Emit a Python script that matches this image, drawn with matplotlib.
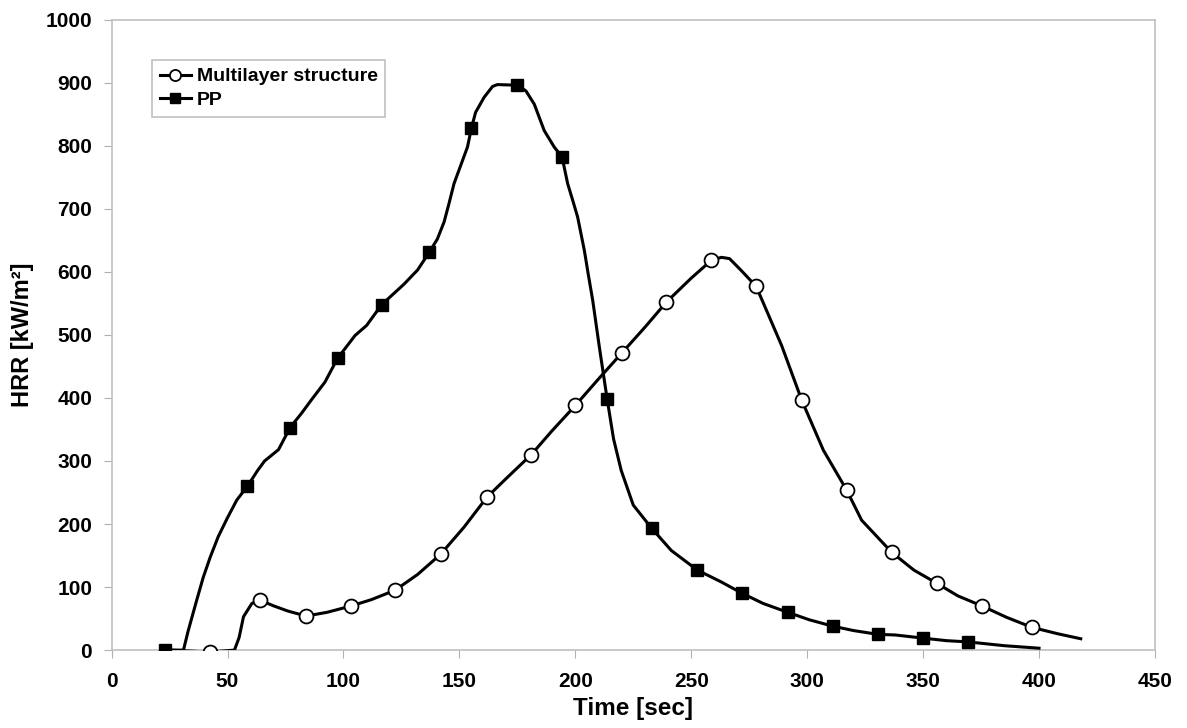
import matplotlib
matplotlib.use("Agg")
import matplotlib.pyplot as plt

plt.rcParams["font.family"] = ["Liberation Sans", "DejaVu Sans"]
plt.rcParams["font.weight"] = "bold"

# PP curve (line points)
pp_time = [23, 30, 31, 33, 36.7, 39.5, 42.5, 46, 50, 54, 58.6, 63, 66, 72, 77,
           82, 86, 92, 97.5, 105, 110, 116.5, 126, 132, 137, 140.5, 143.4, 145.5,
           147.7, 149.8, 151.5, 153.5, 155.2, 157, 160.7, 164.3, 166.4, 175,
           178.7, 182.3, 186.6, 190.9, 194.3, 196.7, 199, 201, 203.9, 205.5,
           207.5, 210.4, 213.7, 216.5, 219.8, 225, 233, 241.4, 252.6, 263,
           272, 281, 291.6, 301, 311, 320, 330.5, 338, 350, 360, 369.4, 385, 400]
pp_hrr = [0, 0, 0, 30, 79, 115, 147, 180, 210, 238, 260, 285, 300, 318, 353,
          376, 396, 425, 463, 499, 515, 548, 580, 603, 631, 652, 679, 708,
          740, 761, 778, 798, 828, 853, 877, 894, 897, 896,
          887, 866, 824, 798, 782, 740, 712, 687, 634, 598,
          555, 480, 399, 335, 285, 230, 193, 158, 127, 108,
          90, 74, 60, 48, 38, 31, 25, 24, 19, 15, 13, 7, 3]
# times where PP markers are drawn
pp_marks = [23, 58.6, 77, 97.5, 116.5, 137, 155.2, 175, 194.3, 213.7, 233,
            252.6, 272, 291.6, 311, 330.5, 350, 369.4]

# Multilayer structure curve
ml_time = [25, 42.5, 53, 55, 56.9, 60.5, 64.1, 70, 76, 83.9, 93, 103.3, 112,
           122.3, 132, 141.9, 152, 162, 171, 181, 190, 200, 210, 220, 230,
           239.3, 250, 258.6, 263, 266.5, 271.6, 278, 289, 297.7, 307, 317,
           323.5, 336.5, 346, 355.9, 365, 375.4, 386, 397, 408, 418]
ml_hrr = [0, -3, 0, 20, 53, 74, 79, 70, 62, 54, 60, 70, 80,
          95, 120, 152, 195, 243, 275, 310, 348, 388, 430, 471, 512,
          552, 590, 618, 623, 621, 602, 577, 483, 396, 317, 254,
          206, 155, 127, 106, 86, 70, 52, 36, 26, 18]
ml_marks = [42.5, 64.1, 83.9, 103.3, 122.3, 141.9, 162, 181, 200, 220, 239.3,
            258.6, 278, 297.7, 317, 336.5, 355.9, 375.4, 397]

fig = plt.figure(figsize=(11.87, 7.28), dpi=100)
ax = fig.add_axes([0.094, 0.107, 0.879, 0.866])

ax.plot(ml_time, ml_hrr, color="black", lw=2.2, marker="o", ms=10,
        mfc="white", mec="black", mew=1.3,
        markevery=[ml_time.index(t) for t in ml_marks],
        label="Multilayer structure", zorder=3)
ax.plot(pp_time, pp_hrr, color="black", lw=2.2, marker="s", ms=8.5,
        mfc="black", mec="black",
        markevery=[pp_time.index(t) for t in pp_marks],
        label="PP", zorder=3)

ax.set_xlim(0, 450)
ax.set_ylim(0, 1000)
ax.set_xticks(range(0, 451, 50))
ax.set_yticks(range(0, 1001, 100))
ax.tick_params(direction="out", length=6, color="#b0b0b0", labelsize=15)
ax.tick_params(axis="x", pad=10)
ax.tick_params(axis="y", pad=8)
for lab in ax.get_xticklabels() + ax.get_yticklabels():
    lab.set_fontweight("bold")
for sp in ax.spines.values():
    sp.set_color("#c0c0c0")
    sp.set_linewidth(1.2)

ax.set_xlabel("Time [sec]", fontsize=17.5, fontweight="bold", labelpad=4)
ax.set_ylabel("HRR [kW/m²]", fontsize=17, fontweight="bold", labelpad=8)

leg = ax.legend(loc="upper left", bbox_to_anchor=(0.0386, 0.936),
                prop={"weight": "bold", "size": 14}, fancybox=False,
                framealpha=1, edgecolor="#c0c0c0", handlelength=1.6,
                handletextpad=0.3, borderpad=0.4, labelspacing=0.3,
                borderaxespad=0, markerscale=0.8)
leg.get_frame().set_linewidth(1.2)

fig.savefig("out.png", dpi=100)
